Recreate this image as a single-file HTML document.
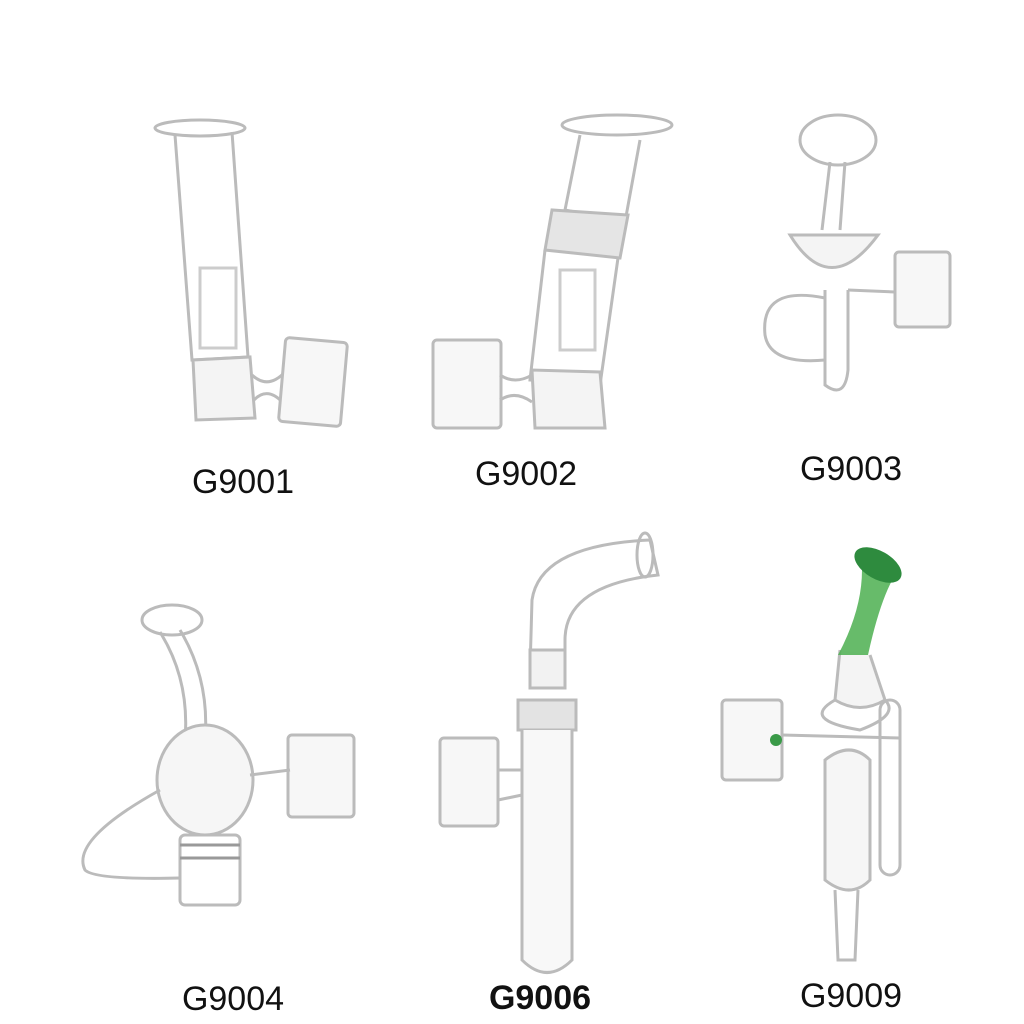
<!DOCTYPE html>
<html><head><meta charset="utf-8"><style>
html,body{margin:0;padding:0;background:#fff;width:1024px;height:1024px;overflow:hidden}
svg{position:absolute;left:0;top:0}
text{font-family:"Liberation Sans",sans-serif;font-size:34px;fill:#111;text-anchor:middle}
</style></head><body>
<svg width="1024" height="1024" viewBox="0 0 1024 1024">
<g fill="none" stroke="#bbb" stroke-width="3">
<!-- G9001 -->
<ellipse cx="200" cy="128" rx="45" ry="8"/>
<path d="M175 135 L192 360 L248 357 L232 132"/>
<rect x="200" y="268" width="36" height="80" stroke="#ccc"/>
<path d="M193 360 L196 420 L255 418 L250 357 Z" fill="#f4f4f4"/>
<path d="M252 375 Q268 390 285 372 M254 400 Q268 385 285 405"/>
<rect x="282" y="340" width="62" height="84" rx="4" transform="rotate(5 313 382)" fill="#f7f7f7"/>
<!-- G9002 -->
<ellipse cx="617" cy="125" rx="55" ry="10"/>
<path d="M580 135 L565 210 L625 222 L640 140"/>
<path d="M552 210 L545 250 L620 258 L628 215 Z" fill="#e5e5e5"/>
<path d="M545 250 L530 380 L600 385 L618 258"/>
<rect x="560" y="270" width="35" height="80" stroke="#ccc"/>
<path d="M532 370 L535 428 L605 428 L600 372 Z" fill="#f4f4f4"/>
<rect x="433" y="340" width="68" height="88" rx="4" fill="#f7f7f7"/>
<path d="M500 375 Q515 385 532 375 M500 400 Q515 390 532 402"/>
<!-- G9003 -->
<ellipse cx="838" cy="140" rx="38" ry="25"/>
<path d="M830 162 L822 230 M845 162 L840 230"/>
<path d="M790 235 Q830 300 878 235 Z" fill="#f4f4f4"/>
<path d="M825 290 L825 385 Q845 400 848 370 L848 290"/>
<path d="M825 298 Q760 285 765 335 Q770 365 825 360"/>
<rect x="895" y="252" width="55" height="75" rx="4" fill="#f7f7f7"/>
<path d="M848 290 L895 292"/>
<!-- G9004 -->
<ellipse cx="172" cy="620" rx="30" ry="15"/>
<path d="M180 630 Q210 680 205 740 M160 632 Q190 680 185 740"/>
<ellipse cx="205" cy="780" rx="48" ry="55" fill="#f6f6f6"/>
<rect x="180" y="835" width="60" height="70" rx="5"/>
<path d="M180 845 L240 845 M180 858 L240 858" stroke="#999"/>
<rect x="288" y="735" width="66" height="82" rx="4" fill="#f7f7f7"/>
<path d="M250 775 L290 770 M160 790 Q70 840 85 870 Q95 880 180 878"/>
<!-- G9006 -->
<path d="M530 670 L532 600 Q540 545 650 540 L658 575 Q565 585 565 640 L565 670" />
<ellipse cx="645" cy="555" rx="8" ry="22"/>
<rect x="530" y="650" width="35" height="38" fill="#f2f2f2"/>
<rect x="518" y="700" width="58" height="30" fill="#e3e3e3"/>
<path d="M522 730 L522 960 Q547 985 572 960 L572 730" fill="#f8f8f8"/>
<rect x="440" y="738" width="58" height="88" rx="4" fill="#f7f7f7"/>
<path d="M498 770 L522 770 M498 800 L522 795"/>
</g>
<!-- G9009 -->
<g fill="none" stroke="#bbb" stroke-width="3">
<path d="M840 650 L835 700 Q860 715 885 700 L870 655" fill="#f4f4f4"/>
<path d="M835 700 Q800 720 860 730 Q900 715 885 700"/>
<rect x="722" y="700" width="60" height="80" rx="4" fill="#f7f7f7"/>
<path d="M782 735 L900 738"/>
<rect x="880" y="700" width="20" height="175" rx="10"/>
<path d="M825 760 Q850 740 870 760 L870 880 Q850 900 825 880 Z" fill="#f6f6f6"/>
<path d="M835 890 L838 960 L855 960 L858 890"/>
</g>
<path d="M838 655 Q862 610 862 570 Q880 555 895 575 Q880 600 868 655 Z" fill="#4caf50" opacity="0.85"/>
<ellipse cx="878" cy="565" rx="26" ry="14" fill="#2e8b3e" transform="rotate(30 878 565)"/>
<circle cx="776" cy="740" r="6" fill="#3a9a48"/>
<text x="243" y="493">G9001</text>
<text x="526" y="485">G9002</text>
<text x="851" y="480">G9003</text>
<text x="233" y="1010">G9004</text>
<text x="540" y="1009" font-weight="bold">G9006</text>
<text x="851" y="1007">G9009</text>
</svg>
</body></html>
